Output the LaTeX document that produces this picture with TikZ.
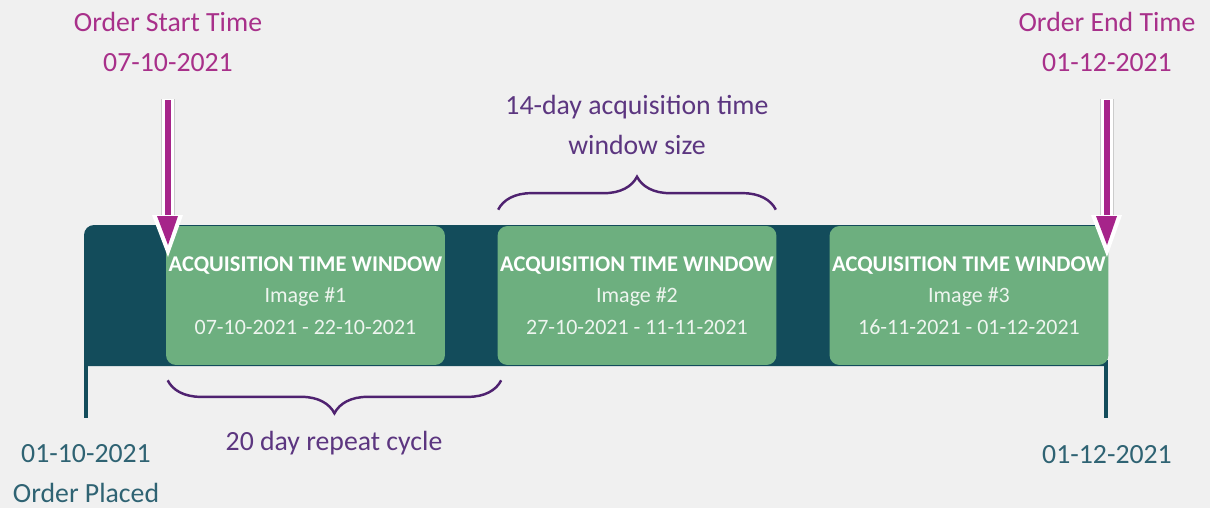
\documentclass[tikz,border=0pt]{standalone}
\usepackage{fontspec}
\setmainfont{Carlito}
\usetikzlibrary{positioning}
\usetikzlibrary{calc}
\usetikzlibrary{decorations.pathreplacing}
\definecolor{bgcol}{HTML}{F0F0F0}
\definecolor{barteal}{HTML}{134C5B}
\definecolor{wingreen}{HTML}{6DAF7F}
\definecolor{wintext}{HTML}{EEF5EF}
\definecolor{ordermag}{HTML}{A8308A}
\definecolor{arrowmag}{HTML}{A6248A}
\definecolor{datetext}{HTML}{2F6373}
\definecolor{bracecol}{HTML}{4F2270}
\definecolor{cycletext}{HTML}{5C3680}
\def\mylabelfont{\fontsize{15.8}{22.5}\selectfont}
\def\mywinfont{\fontsize{12.5}{18}\selectfont}
\def\mywintitle{\fontsize{12.8}{18}\selectfont\bfseries\color{white}}
\tikzset{
semithick,
>=stealth,
my label/.style={font=\mylabelfont,align=center,inner sep=0pt},
order label/.style={my label,text=ordermag},
date label/.style={my label,text=datetext},
cycle label/.style={my label,text=cycletext},
my window/.style={fill=wingreen,rounded corners=2mm,minimum width=5.58cm,
  minimum height=2.78cm,inner sep=0pt,align=center,font=\mywinfont,text=wintext},
my brace/.style={draw=bracecol,line width=1.4pt,decorate,
  decoration={brace,amplitude=0.66cm}},
my tick/.style={draw=barteal,line width=2pt},
shaft rim/.style={draw=black!20,line width=7.8pt},
shaft fill/.style={draw=white,line width=7pt},
shaft core/.style={draw=arrowmag,line width=3.4pt}
}

\begin{document}
\begin{tikzpicture}[x=0.02cm,y=-0.02cm]
\fill[bgcol] (0,0) rectangle (1210,508);
\useasboundingbox (0,0) rectangle (1210,508);

% timeline bar
\fill[barteal] (84,366) [rounded corners=2mm] -- (84,225) -- (1104,225)
  [sharp corners] -- (1104,366) -- cycle;
\coordinate (l0) at (86,366);
\coordinate (l1) at (86,418);
\coordinate (r0) at (1106,360);
\coordinate (r1) at (1106,418);
\draw[my tick] (l0) -- (l1);
\draw[my tick] (r0) -- (r1);

% acquisition windows
\node[my window] (w1) at (305.5,295.5)
  {{\mywintitle ACQUISITION TIME WINDOW}\\Image \#1\\07-10-2021 - 22-10-2021};
\node[my window] (w2) at (637,295.5)
  {{\mywintitle ACQUISITION TIME WINDOW}\\Image \#2\\27-10-2021 - 11-11-2021};
\node[my window] (w3) at (969,295.5)
  {{\mywintitle ACQUISITION TIME WINDOW}\\Image \#3\\16-11-2021 - 01-12-2021};

% braces
\draw[my brace] ($(w2.north west)+(1,-16)$) -- ($(w2.north east)+(-1,-16)$);
\draw[my brace] ($(w2.south west)+(4,15)$) -- ($(w1.south west)+(2,15)$);
\node[cycle label] (size) at (637,125) {14-day acquisition time\\window size};
\node[cycle label] (cycle) at (334,443) {20 day repeat cycle};

% order start and end
\node[order label] (start) at (168,42) {Order Start Time\\07-10-2021};
\node[order label] (end) at (1107,42) {Order End Time\\01-12-2021};
\foreach \n/\x in {s/168,e/1107}{
  \coordinate (\n top) at (\x,99);
  \coordinate (\n head) at (\x,215);
  \coordinate (\n tip) at (\x,257);
  \draw[shaft rim] (\n top) -- (\n head);
  \draw[shaft fill] (\n top) -- (\n head);
  \draw[shaft core] ($(\n top)+(0,1)$) -- (\n head);
  \fill[white] ($(\n head)+(-16,0)$) -- ($(\n head)+(15,0)$) -- (\n tip) -- cycle;
  \fill[arrowmag] ($(\n head)+(-11,1)$) -- ($(\n head)+(10,1)$)
    -- ($(\n tip)+(0,-12)$) -- cycle;
}

% dates below
\node[date label] (placed) at (86,473.5) {01-10-2021\\Order Placed};
\node[date label] (finish) at (1107,455) {01-12-2021};
\end{tikzpicture}
\end{document}
